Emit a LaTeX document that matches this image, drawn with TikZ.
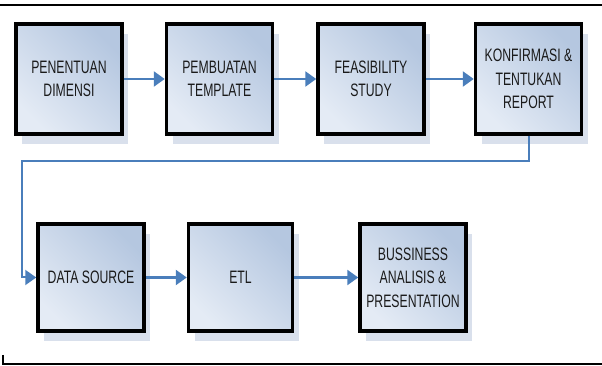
\documentclass[tikz,border=0pt]{standalone}
\usepackage{fontspec}
\newfontfamily\boxfont[FakeStretch=0.68]{Liberation Sans}
\usepackage{tikz}
\usetikzlibrary{arrows.meta}
\usetikzlibrary{positioning}
\usetikzlibrary{shadows}
\definecolor{boxlight}{HTML}{E4EBF5}
\definecolor{boxdark}{HTML}{B5C7E0}
\definecolor{shadowblue}{HTML}{D9E0EC}
\definecolor{arrowblue}{HTML}{4A7EBB}
\definecolor{textgray}{HTML}{1A1A1A}

\begin{document}
\begin{tikzpicture}
    [x=1pt,y=1pt,
stepbox/.style={rectangle, draw=black, line width=3.5pt, minimum width=106pt, minimum height=110pt, left color=boxlight, right color=boxdark, shading angle=135, general shadow={fill=shadowblue, shadow xshift=6pt, shadow yshift=-10pt}, align=center, text=textgray, font=\boxfont\fontsize{18}{23.5}\selectfont},
flow/.style={draw=arrowblue, line width=2.5pt},
feedback/.style={draw=arrowblue, line width=2pt}
]
\useasboundingbox (0,0) rectangle (602,366);
\draw[line width=2pt] (0,361) -- (602,361);
\draw[line width=2pt] (3,11) -- (3,2) -- (602,2);

\node[stepbox](dimensi) at (69,287){PENENTUAN\\DIMENSI};
\node[stepbox](template)[right=41pt of dimensi]{PEMBUATAN\\TEMPLATE};
\node[stepbox](feasibility)[right=42pt of template]{FEASIBILITY\\STUDY};
\node[stepbox](report)[right=48pt of feasibility]{KONFIRMASI \&\\TENTUKAN\\REPORT};
\node[stepbox,minimum height=107pt](source) at (91,88.5){DATA SOURCE};
\node[stepbox,minimum height=107pt,minimum width=104pt](etl)[right=41pt of source]{ETL};
\node[stepbox,minimum height=107pt](analisis)[right=64pt of etl]{BUSSINESS\\ANALISIS \&\\PRESENTATION};
\coordinate (turn) at (22,205);

\draw[flow,-{Triangle[length=11pt,width=15pt]}] (dimensi) to (template);
\draw[flow,-{Triangle[length=11pt,width=15pt]}] (template) to (feasibility);
\draw[flow,-{Triangle[length=11pt,width=15pt]}] (feasibility) to (report);
\draw[feedback,-{Triangle[length=11pt,width=15pt]}] (report.south) |- (turn) |- (source.west);
\draw[flow,-{Triangle[length=11pt,width=15pt]}] (source) to (etl);
\draw[flow,-{Triangle[length=11pt,width=15pt]}] (etl) to (analisis);
\end{tikzpicture}
\end{document}
